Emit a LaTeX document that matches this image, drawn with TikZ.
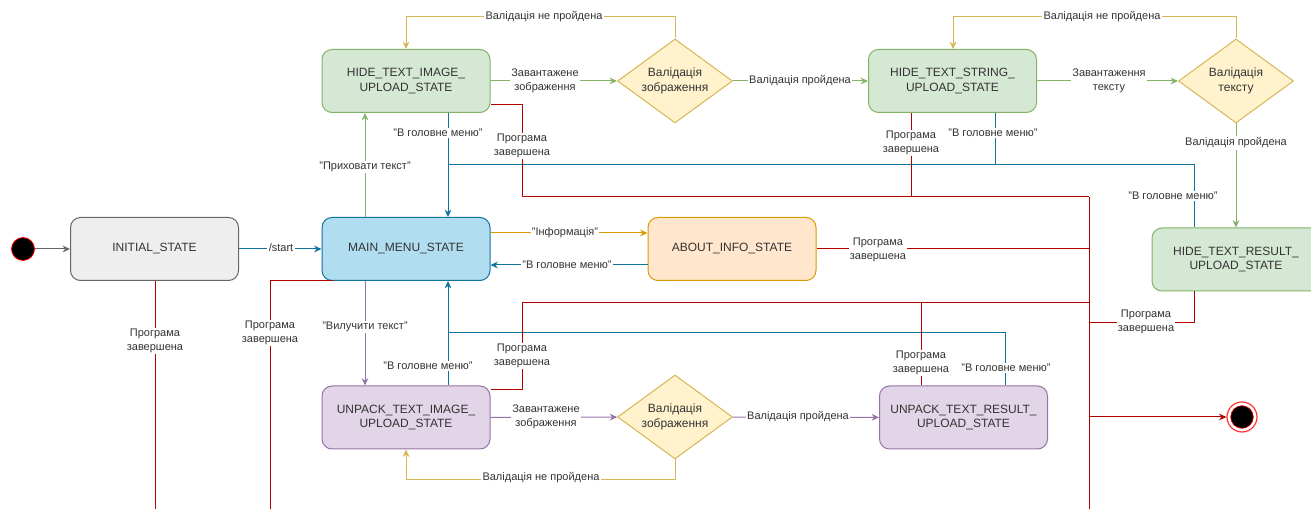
\documentclass[tikz,border=0pt]{standalone}
\usepackage{fontspec}
\setmainfont{Liberation Sans}
\usetikzlibrary{shapes.geometric,arrows.meta}
\definecolor{cRed}{HTML}{B20000}
\definecolor{cBlue}{HTML}{10739E}
\definecolor{cBlueF}{HTML}{B1DDF0}
\definecolor{cGreen}{HTML}{82B366}
\definecolor{cGreenF}{HTML}{D5E8D4}
\definecolor{cOrange}{HTML}{D79B00}
\definecolor{cOrangeF}{HTML}{FFE6CC}
\definecolor{cYel}{HTML}{D6B656}
\definecolor{cYelF}{HTML}{FFF2CC}
\definecolor{cPur}{HTML}{9673A6}
\definecolor{cPurF}{HTML}{E1D5E7}
\definecolor{cGray}{HTML}{666666}
\definecolor{cGrayF}{HTML}{EEEEEE}
\definecolor{txt}{HTML}{333333}
\begin{document}
\begin{tikzpicture}[x=0.75pt,y=-0.75pt,
  st/.style={rectangle, rounded corners=7.5pt, minimum width=126pt, minimum height=47.25pt,
    align=center, line width=0.75pt, font=\fontsize{9}{11}\selectfont, text=txt, inner sep=2pt},
  dm/.style={diamond, shape aspect=1.37, draw=cYel, fill=cYelF, minimum width=86.25pt, minimum height=63pt,
    inner sep=0pt, align=center, line width=0.75pt, font=\fontsize{9}{11}\selectfont, text=txt},
  ln/.style={line width=0.75pt},
  arr/.style={ln, -{Stealth[length=5.5pt,width=5pt]}},
  lbl/.style={fill=white, inner sep=1pt, align=center, text=txt,
    font=\fontsize{8.25}{10.5}\selectfont},
]
\useasboundingbox (0,0) rectangle (1311,509);
\clip (0,0) rectangle (1311,509);

% helper coordinates
\coordinate (xg) at (365,0);
\coordinate (xb) at (448,0);
\coordinate (xr1) at (522,0);
\coordinate (xy) at (406,0);
\coordinate (xy2) at (953,0);
\coordinate (xr2) at (911,0);
\coordinate (xb2) at (995,0);
\coordinate (xr3) at (921,0);
\coordinate (xb3) at (1005,0);
\coordinate (xbus) at (1089,0);
\coordinate (xb4) at (1194,0);
\coordinate (xr4) at (155,0);
\coordinate (xr5) at (270,0);
\coordinate (xr5s) at (333,0);
\coordinate (yTop) at (0,17);
\coordinate (yB1) at (0,165);
\coordinate (yR1) at (0,197);
\coordinate (yR2) at (0,303);
\coordinate (yR3) at (0,323);
\coordinate (yB2) at (0,333);
\coordinate (yBot) at (0,480);
\coordinate (yEnd) at (0,512);
\coordinate (y105) at (0,105);
\coordinate (y390) at (0,390);
\coordinate (y233) at (0,233);
\coordinate (y265) at (0,265);

% states
\node[st, draw=cGray, fill=cGrayF] (init) at (154.5,249) {INITIAL\_STATE};
\node[st, draw=cBlue, fill=cBlueF] (main) at (406,249) {MAIN\_MENU\_STATE};
\node[st, draw=cGreen, fill=cGreenF] (hideimg) at (406,81) {HIDE\_TEXT\_IMAGE\_\\UPLOAD\_STATE};
\node[st, draw=cGreen, fill=cGreenF] (hidestr) at (952.5,81) {HIDE\_TEXT\_STRING\_\\UPLOAD\_STATE};
\node[st, draw=cGreen, fill=cGreenF] (hideres) at (1236,259.5) {HIDE\_TEXT\_RESULT\_\\UPLOAD\_STATE};
\node[st, draw=cOrange, fill=cOrangeF] (about) at (732,249) {ABOUT\_INFO\_STATE};
\node[st, draw=cPur, fill=cPurF] (unimg) at (406,417.5) {UNPACK\_TEXT\_IMAGE\_\\UPLOAD\_STATE};
\node[st, draw=cPur, fill=cPurF] (unres) at (963.5,417.5) {UNPACK\_TEXT\_RESULT\_\\UPLOAD\_STATE};
\node[dm] (d1) at (675,81) {Валідація\\зображення};
\node[dm] (d2) at (1236,81) {Валідація\\тексту};
\node[dm] (d3) at (675,417) {Валідація\\зображення};
\node[circle, fill=black, draw=red, line width=0.6pt, minimum size=17.25pt, inner sep=0pt] (start) at (23,249) {};
\node[circle, fill=white, draw=red!80, line width=0.9pt, minimum size=22.5pt, inner sep=0pt] (endst) at (1242,417) {};
\node[circle, fill=black, draw=red, line width=0.4pt, minimum size=17pt, inner sep=0pt] (endin) at (1242,417) {};

% gray / start
\draw[arr, cGray] (start) -- (init);
% blue
\draw[arr, cBlue] (init) -- (main);
\draw[arr, cBlue] (hideimg.south -| xb) -- (main.north -| xb);
\draw[ln, cBlue] (hidestr.south -| xb2) |- (xb |- yB1);
\draw[ln, cBlue] (hideres.north -| xb4) |- (xb |- yB1);
\draw[arr, cBlue] (unimg.north -| xb) -- (main.south -| xb);
\draw[ln, cBlue] (unres.north -| xb3) |- (xb |- yB2);
\draw[arr, cBlue] (about.west |- y265) -- (main.east |- y265);
% green
\draw[arr, cGreen] (main.north -| xg) -- (hideimg.south -| xg);
\draw[arr, cGreen] (hideimg) -- (d1);
\draw[arr, cGreen] (d1) -- (hidestr);
\draw[arr, cGreen] (hidestr) -- (d2);
\draw[arr, cGreen] (d2) -- (hideres);
% purple
\draw[arr, cPur] (main.south -| xg) -- (unimg.north -| xg);
\draw[arr, cPur] (unimg) -- (d3);
\draw[arr, cPur] (d3) -- (unres);
% orange
\draw[arr, cOrange] (main.east |- y233) -- (about.west |- y233);
% yellow
\draw[arr, cYel] (d1.north) -- (d1.north |- yTop) -| (hideimg.north -| xy);
\draw[arr, cYel] (d2.north) -- (d2.north |- yTop) -| (hidestr.north -| xy2);
\draw[arr, cYel] (d3.south) -- (d3.south |- yBot) -| (unimg.south -| xy);
% red
\draw[ln, cRed] (init.south -| xr4) -- (xr4 |- yEnd);
\draw[ln, cRed] (main.south -| xr5s) -| (xr5 |- yEnd);
\draw[ln, cRed] (hideimg.east |- y105) -| (xr1 |- yR1) -- (xbus |- yR1);
\draw[ln, cRed] (hidestr.south -| xr2) -- (xr2 |- yR1);
\draw[ln, cRed] (xbus |- yR1) -- (xbus |- yEnd);
\draw[ln, cRed] (about.east) -- (xbus |- about.east);
\draw[ln, cRed] (hideres.south -| xb4) |- (xbus |- yR3);
\draw[ln, cRed] (unimg.east |- y390) -| (xr1 |- yR2) -- (xbus |- yR2);
\draw[ln, cRed] (unres.north -| xr3) -- (xr3 |- yR2);
\draw[arr, cRed] (xbus |- endst) -- (endst);

% labels
\node[lbl] (l1) at (281,248) {/start};
\node[lbl] (l2) at (365,167) {"Приховати текст"};
\node[lbl] (l3) at (438,133) {"В головне меню"};
\node[lbl] (l4) at (522,146) {Програма\\завершена};
\node[lbl] (l5) at (545,81) {Завантажене\\зображення};
\node[lbl] (l6) at (800,81) {Валідація пройдена};
\node[lbl] (l7) at (544,17) {Валідація не пройдена};
\node[lbl] (l8) at (911,143) {Програма\\завершена};
\node[lbl] (l9) at (993,133) {"В головне меню"};
\node[lbl] (l10) at (1109,81) {Завантаження\\тексту};
\node[lbl] (l11) at (1102,17) {Валідація не пройдена};
\node[lbl] (l12) at (1236,143) {Валідація пройдена};
\node[lbl] (l13) at (1173,196) {"В головне меню"};
\node[lbl] (l14) at (565,233) {"Інформація"};
\node[lbl] (l15) at (567,265) {"В головне меню"};
\node[lbl] (l16) at (878,250) {Програма\\завершена};
\node[lbl] (l17) at (1146,322) {Програма\\завершена};
\node[lbl] (l18) at (155,341) {Програма\\завершена};
\node[lbl] (l19) at (270,333) {Програма\\завершена};
\node[lbl] (l20) at (365,327) {"Вилучити текст"};
\node[lbl] (l21) at (428,366) {"В головне меню"};
\node[lbl] (l22) at (522,356) {Програма\\завершена};
\node[lbl] (l23) at (921,363) {Програма\\завершена};
\node[lbl] (l24) at (1006,368) {"В головне меню"};
\node[lbl] (l25) at (546,417) {Завантажене\\зображення};
\node[lbl] (l26) at (798,417) {Валідація пройдена};
\node[lbl] (l27) at (541,478) {Валідація не пройдена};
\end{tikzpicture}
\end{document}
